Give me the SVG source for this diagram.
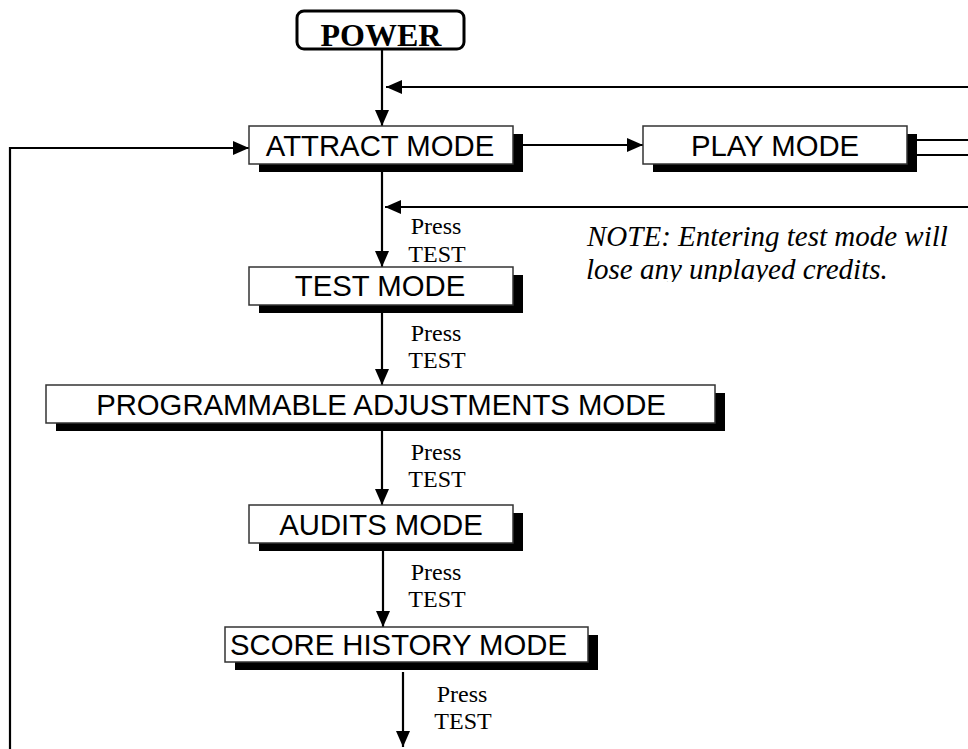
<svg xmlns="http://www.w3.org/2000/svg" width="968" height="749" viewBox="0 0 968 749">
<style>
.box{fill:#fff;stroke:#333;stroke-width:1.5}
.sh{fill:#000}
.bt{font-family:"Liberation Sans",Arial,sans-serif;font-size:29.3px;fill:#000;text-anchor:middle}
.bts{font-family:"Liberation Sans",Arial,sans-serif;font-size:29.3px;fill:#000;text-anchor:start}
.lbl{font-family:"Liberation Serif","Times New Roman",serif;font-size:24px;fill:#000;text-anchor:middle}
.note{font-family:"Liberation Serif","Times New Roman",serif;font-style:italic;font-size:29px;fill:#000}
.c{fill:none;stroke:#000;stroke-width:2.2}
</style>
<defs>
<marker id="ah" markerUnits="userSpaceOnUse" markerWidth="16" markerHeight="14" refX="16" refY="7" orient="auto">
<path d="M0,0 L16,7 L0,14 z" fill="#000"/>
</marker>
<clipPath id="noteclip"><rect x="540" y="200" width="428" height="82"/></clipPath>
</defs>
<rect width="968" height="749" fill="#fff"/>
<g id="connectors">
<path class="c" d="M382,50 V126" marker-end="url(#ah)"/>
<path class="c" d="M968,87 H386" marker-end="url(#ah)"/>
<path class="c" d="M10,749 V148 H249" stroke-width="2.6" marker-end="url(#ah)"/>
<path class="c" d="M523,145 H643" marker-end="url(#ah)"/>
<path class="c" d="M917,140 H968"/>
<path class="c" d="M917,155 H968"/>
<path class="c" d="M382,172 V267" marker-end="url(#ah)"/>
<path class="c" d="M968,207 H385" marker-end="url(#ah)"/>
<path class="c" d="M382,313 V385" marker-end="url(#ah)"/>
<path class="c" d="M382,431 V505" marker-end="url(#ah)"/>
<path class="c" d="M383,551 V627" marker-end="url(#ah)"/>
<path class="c" d="M403,672 V747" marker-end="url(#ah)"/>
</g>
<g id="power">
<rect x="297" y="11" width="167" height="38" rx="7" fill="#fff" stroke="#000" stroke-width="3"/>
<text x="381" y="46" font-family="Liberation Serif,'Times New Roman',serif" font-weight="bold" font-size="32" text-anchor="middle">POWER</text>
</g>
<g id="attract">
<rect class="sh" x="259" y="134" width="264" height="38"/>
<rect class="box" x="249" y="126" width="264" height="38"/>
<text class="bt" x="380" y="156">ATTRACT MODE</text>
</g>
<g id="play">
<rect class="sh" x="653" y="134" width="264" height="38"/>
<rect class="box" x="643" y="126" width="264" height="38"/>
<text class="bt" x="775" y="156">PLAY MODE</text>
</g>
<g id="test">
<rect class="sh" x="259" y="275" width="264" height="38"/>
<rect class="box" x="249" y="267" width="264" height="38"/>
<text class="bt" x="380" y="296">TEST MODE</text>
</g>
<g id="prog">
<rect class="sh" x="56" y="393" width="669" height="38"/>
<rect class="box" x="46" y="385" width="669" height="38"/>
<text class="bt" x="381" y="415">PROGRAMMABLE ADJUSTMENTS MODE</text>
</g>
<g id="audits">
<rect class="sh" x="259" y="513" width="264" height="38"/>
<rect class="box" x="249" y="505" width="264" height="38"/>
<text class="bt" x="381" y="535">AUDITS MODE</text>
</g>
<g id="score">
<rect class="sh" x="235" y="635" width="363" height="35"/>
<rect class="box" x="225" y="627" width="363" height="35"/>
<text class="bts" x="230" y="655">SCORE HISTORY MODE</text>
</g>
<g id="labels">
<text class="lbl" x="436" y="234">Press</text>
<text class="lbl" x="437" y="262">TEST</text>
<text class="lbl" x="436" y="341">Press</text>
<text class="lbl" x="437" y="368">TEST</text>
<text class="lbl" x="436" y="460">Press</text>
<text class="lbl" x="437" y="487">TEST</text>
<text class="lbl" x="436" y="580">Press</text>
<text class="lbl" x="437" y="607">TEST</text>
<text class="lbl" x="462" y="702">Press</text>
<text class="lbl" x="463" y="729">TEST</text>
</g>
<g id="note" clip-path="url(#noteclip)">
<text class="note" x="587" y="246">NOTE: Entering test mode will</text>
<text class="note" x="586" y="279">lose any unplayed credits.</text>
</g>
</svg>
